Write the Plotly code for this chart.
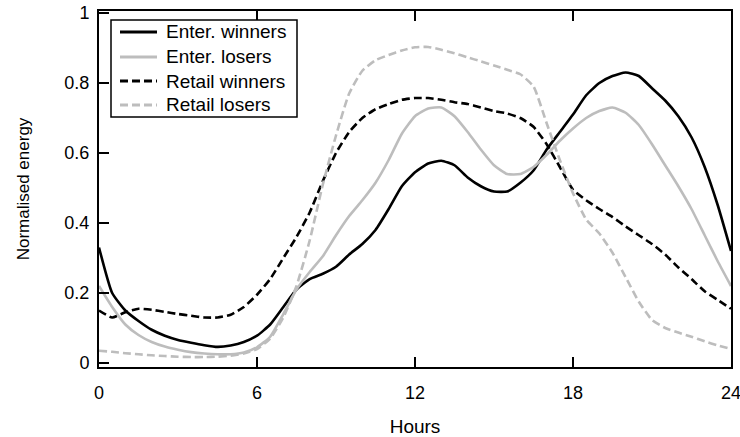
import plotly.graph_objects as go

# Half-hourly profile, 0..24 h
hours = [i * 0.5 for i in range(49)]

enter_winners = [
    0.33, 0.20, 0.15, 0.12, 0.095, 0.078, 0.066, 0.058, 0.051, 0.046,
    0.050, 0.060, 0.078, 0.110, 0.160, 0.210, 0.240, 0.255, 0.275, 0.310,
    0.340, 0.380, 0.440, 0.505, 0.545, 0.570, 0.578, 0.565, 0.530, 0.505,
    0.490, 0.490, 0.515, 0.550, 0.610, 0.660, 0.710, 0.765, 0.800, 0.820,
    0.830, 0.820, 0.785, 0.750, 0.705, 0.645, 0.560, 0.450, 0.320,
]

enter_losers = [
    0.22, 0.16, 0.11, 0.08, 0.060, 0.047, 0.038, 0.031, 0.027, 0.025,
    0.025, 0.030, 0.045, 0.075, 0.140, 0.210, 0.260, 0.305, 0.365, 0.420,
    0.465, 0.515, 0.580, 0.655, 0.705, 0.727, 0.730, 0.705, 0.660, 0.610,
    0.565, 0.540, 0.540, 0.560, 0.595, 0.635, 0.670, 0.700, 0.720, 0.730,
    0.715, 0.680, 0.625, 0.565, 0.505, 0.440, 0.365, 0.290, 0.220,
]

retail_winners = [
    0.150, 0.130, 0.145, 0.155, 0.152, 0.146, 0.140, 0.135, 0.130, 0.130,
    0.138, 0.160, 0.195, 0.240, 0.300, 0.360, 0.430, 0.520, 0.600, 0.660,
    0.700, 0.725, 0.740, 0.752, 0.757, 0.757, 0.752, 0.745, 0.740, 0.730,
    0.720, 0.713, 0.700, 0.675, 0.625, 0.560, 0.495, 0.465, 0.440, 0.417,
    0.390, 0.365, 0.340, 0.310, 0.273, 0.240, 0.205, 0.180, 0.155,
]

retail_losers = [
    0.035, 0.032, 0.028, 0.025, 0.022, 0.020, 0.018, 0.017, 0.017, 0.018,
    0.021, 0.027, 0.040, 0.070, 0.130, 0.220, 0.350, 0.510, 0.650, 0.770,
    0.835, 0.865, 0.880, 0.893, 0.902, 0.903, 0.895, 0.885, 0.873, 0.862,
    0.850, 0.838, 0.825, 0.790, 0.685, 0.580, 0.485, 0.410, 0.370, 0.315,
    0.245, 0.175, 0.123, 0.100, 0.087, 0.075, 0.062, 0.050, 0.040,
]

series_names = ["Enter. winners", "Enter. losers", "Retail winners", "Retail losers"]

x_ticks = [0, 6, 12, 18, 24]
y_ticks = [0, 0.2, 0.4, 0.6, 0.8, 1]
y_tick_labels = ["0", "0.2", "0.4", "0.6", "0.8", "1"]

BLACK = "#000000"
GREY = "#bdbdbd"
DASH = "8px,4px"

styles = [(BLACK, "solid"), (GREY, "solid"), (BLACK, DASH), (GREY, DASH)]
values_by_series = [enter_winners, enter_losers, retail_winners, retail_losers]

W, H = 740, 437
M_L, M_R, M_T, M_B = 99, 9, 11, 70
PW, PH = W - M_L - M_R, H - M_T - M_B


def px_to_paper(x_px, y_px):
    return (x_px - M_L) / PW, (H - M_B - y_px) / PH


fig = go.Figure()
for name, values, (color, dash) in zip(series_names, values_by_series, styles):
    fig.add_trace(go.Scatter(
        x=hours, y=values, name=name, mode="lines",
        line=dict(color=color, width=2.6, dash=dash, shape="spline", smoothing=0.5),
        showlegend=False,
    ))

font_family = "Arial, 'Liberation Sans', sans-serif"

# Boxed key in the upper-left corner of the axes
shapes = []
annotations = []
bx0, by0 = px_to_paper(111, 117)
bx1, by1 = px_to_paper(297, 20)
shapes.append(dict(type="rect", xref="paper", yref="paper",
                   x0=bx0, y0=by0, x1=bx1, y1=by1,
                   line=dict(color="black", width=1.5), fillcolor="white",
                   layer="above"))
row_y = [32, 57, 81, 105]
for name, (color, dash), ry in zip(series_names, styles, row_y):
    lx0, ly = px_to_paper(120, ry)
    lx1, _ = px_to_paper(157, ry)
    shapes.append(dict(type="line", xref="paper", yref="paper",
                       x0=lx0, x1=lx1, y0=ly, y1=ly,
                       line=dict(color=color, width=3, dash=dash), layer="above"))
    tx, _ = px_to_paper(164, ry)
    annotations.append(dict(xref="paper", yref="paper", x=tx, y=ly,
                            xanchor="left", yanchor="middle", showarrow=False,
                            text=name, font=dict(size=19, family=font_family, color="black")))

fig.update_layout(
    width=W, height=H,
    margin=dict(l=M_L, r=M_R, t=M_T, b=M_B),
    paper_bgcolor="white", plot_bgcolor="white",
    font=dict(family=font_family, size=18, color="black"),
    showlegend=False,
    shapes=shapes,
    annotations=annotations,
    xaxis=dict(
        range=[0, 24], tickvals=x_ticks, ticktext=[str(v) for v in x_ticks],
        ticks="inside", ticklen=10, tickwidth=1.5, tickcolor="black",
        showline=True, linecolor="black", linewidth=2, mirror="ticks",
        showgrid=False, zeroline=False, automargin=False,
        ticklabeloverflow="allow",
        tickfont=dict(size=18), ticklabelstandoff=8,
        title=dict(text="Hours", font=dict(size=19), standoff=20),
    ),
    yaxis=dict(
        range=[-0.0114, 1.0057], tickvals=y_ticks, ticktext=y_tick_labels,
        ticks="inside", ticklen=10, tickwidth=1.5, tickcolor="black",
        showline=True, linecolor="black", linewidth=2, mirror=True,
        showgrid=False, zeroline=False, automargin=False,
        ticklabeloverflow="allow",
        tickfont=dict(size=18), ticklabelstandoff=4,
        title=dict(text="Normalised energy", font=dict(size=17), standoff=30),
    ),
)

fig.write_html("out.html")
